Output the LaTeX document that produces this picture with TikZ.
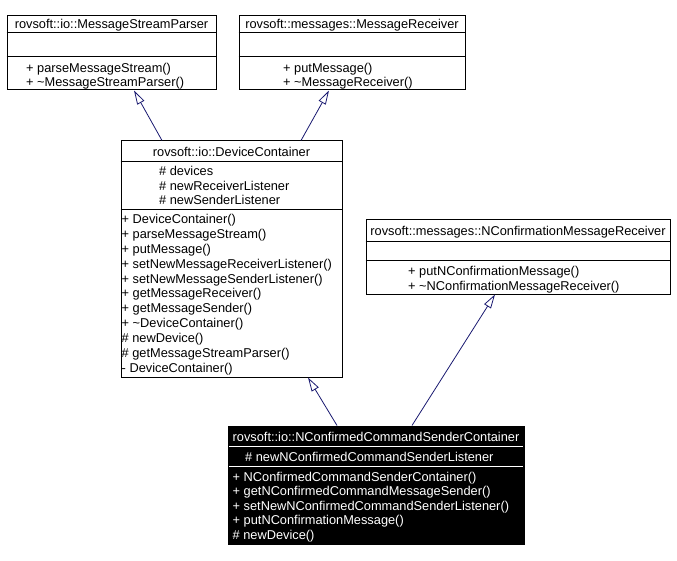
\documentclass[tikz,border=0pt]{standalone}
\usepackage{fontspec}
\setmainfont{Liberation Sans}
\usetikzlibrary{positioning,arrows.meta}
\definecolor{edgeblue}{RGB}{25,25,112}
\tikzset{
  classbox/.style={draw, line width=1pt, inner sep=0pt, fill=white},
  activebox/.style={classbox, fill=black},
  title/.style={anchor=base, inner sep=0pt},
  member/.style={anchor=base west, inner sep=0pt},
  inherit/.style={draw=edgeblue, line width=0.8pt, -{Triangle[open, length=14pt, width=8pt]}}
}

\begin{document}
\begin{tikzpicture}[x=1pt, y=-1pt, font=\fontsize{12.8}{15}\selectfont]
\useasboundingbox (0,0) rectangle (677,561);
% base classes
\node[classbox, minimum width=209, minimum height=74] (parser) at (111.5,53) {};
\draw[line width=1pt] (parser.west |- 0,33) -- (parser.east |- 0,33) (parser.west |- 0,57) -- (parser.east |- 0,57);
\node[title] (parser-t) at (111.5,29) {rovsoft::io::MessageStreamParser};
\foreach \i/\y/\txt in {1/72.5/+ parseMessageStream(), 2/86.5/+ \textasciitilde MessageStreamParser()}
  \node[member] (parser-m\i) at (26,\y) {\txt};

\node[classbox, minimum width=226, minimum height=74] (receiver) at (352,53) {};
\draw[line width=1pt] (receiver.west |- 0,33) -- (receiver.east |- 0,33) (receiver.west |- 0,57) -- (receiver.east |- 0,57);
\node[title] (receiver-t) at (352,29) {rovsoft::messages::MessageReceiver};
\foreach \i/\y/\txt in {1/72.5/+ putMessage(), 2/86.5/+ \textasciitilde MessageReceiver()}
  \node[member] (receiver-m\i) at (283,\y) {\txt};

% DeviceContainer
\node[classbox, minimum width=221, minimum height=236] (container) at (231.5,259) {};
\draw[line width=1pt] (container.west |- 0,162) -- (container.east |- 0,162) (container.west |- 0,210) -- (container.east |- 0,210);
\node[title] (container-t) at (231.5,157) {rovsoft::io::DeviceContainer};
\foreach \txt [count=\i] in {devices, newReceiverListener, newSenderListener}
  \node[member] (container-a\i) at (159,{161.8+14.2*\i}) {\# \txt};
\foreach \txt [count=\i] in {+ DeviceContainer(), + parseMessageStream(), + putMessage(),
    + setNewMessageReceiverListener(), + setNewMessageSenderListener(), + getMessageReceiver(),
    + getMessageSender(), + \textasciitilde DeviceContainer(), \# newDevice(),
    \# getMessageStreamParser(), - DeviceContainer()}
  \node[member] (container-m\i) at (121.5,{208.6+14.9*\i}) {\txt};

% NConfirmationMessageReceiver
\node[classbox, minimum width=304, minimum height=74] (nreceiver) at (518,257) {};
\draw[line width=1pt] (nreceiver.west |- 0,242) -- (nreceiver.east |- 0,242) (nreceiver.west |- 0,261) -- (nreceiver.east |- 0,261);
\node[title] (nreceiver-t) at (518,236) {rovsoft::messages::NConfirmationMessageReceiver};
\foreach \i/\y/\txt in {1/276/+ putNConfirmationMessage(), 2/290.5/+ \textasciitilde NConfirmationMessageReceiver()}
  \node[member] (nreceiver-m\i) at (408,\y) {\txt};

% NConfirmedCommandSenderContainer
\node[activebox, minimum width=296, minimum height=118] (sender) at (376,485) {};
\draw[white, line width=1pt] (229,446) -- (523,446) (229,466) -- (523,466);
\node[title, white] (sender-t) at (376,441.5) {rovsoft::io::NConfirmedCommandSenderContainer};
\node[member, white] (sender-a1) at (245,461) {\# newNConfirmedCommandSenderListener};
\foreach \txt [count=\i] in {+ NConfirmedCommandSenderContainer(), + getNConfirmedCommandMessageSender(),
    + setNewNConfirmedCommandSenderListener(), + putNConfirmationMessage(), \# newDevice()}
  \node[member, white] (sender-m\i) at (232.5,{466.5+14.6*\i}) {\txt};

% inheritance
\draw[inherit] (container.north -| 162,0) -- (parser.south -| 134,0);
\draw[inherit] (container.north -| 301,0) -- (receiver.south -| 329,0);
\draw[inherit] (sender.north -| 337,0) -- (container.south -| 308,0);
\draw[inherit] (sender.north -| 412,0) -- (nreceiver.south -| 495,0);
\end{tikzpicture}
\end{document}
